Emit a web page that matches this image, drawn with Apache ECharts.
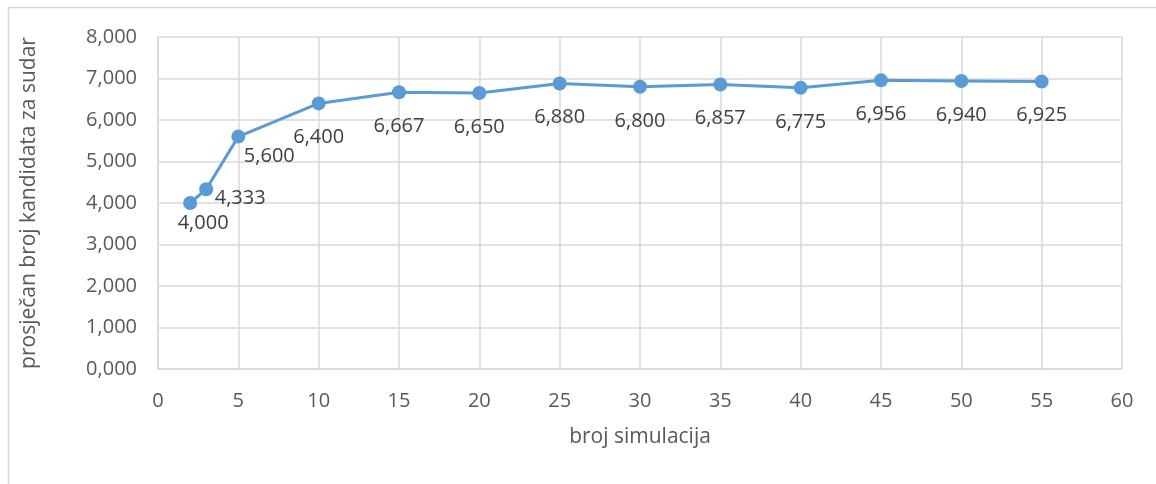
<!DOCTYPE html>
<html>
<head>
<meta charset="utf-8">
<script src="https://cdn.jsdelivr.net/npm/echarts@6/dist/echarts.min.js"></script>
<style>
  html, body { margin: 0; padding: 0; background: #fff; }
  #chart { width: 1156px; height: 484px; }
</style>
</head>
<body>
<div id="chart"></div>
<script>
// broj simulacija
const simulations = [2, 3, 5, 10, 15, 20, 25, 30, 35, 40, 45, 50, 55]
// prosječan broj kandidata za sudar
const avgCandidates = [4.000, 4.333, 5.600, 6.400, 6.667, 6.650, 6.880, 6.800, 6.857, 6.775, 6.956, 6.940, 6.925]

const fontFamily = '"Open Sans", sans-serif'
const fmt = v => v.toFixed(3).replace('.', ',')

// label placement, most sit under the point
const labelShift = { 0: [13, 20], 1: [34, 9], 2: [31, 20] }

const chart = echarts.init(document.getElementById('chart'))
chart.setOption({
  animation: false,
  graphic: [{
    type: 'rect',
    shape: { x: 8.5, y: 7.5, width: 1170, height: 500 },
    style: { fill: null, stroke: '#d9d9d9', lineWidth: 1.5 },
    silent: true
  }],
  grid: { left: 158, right: 34, top: 37, bottom: 115 },
  xAxis: {
    type: 'value',
    min: 0,
    max: 60,
    interval: 5,
    name: 'broj simulacija',
    nameLocation: 'middle',
    nameGap: 58,
    nameTextStyle: { fontFamily, fontSize: 21, color: '#595959' },
    axisLine: { show: true, lineStyle: { color: '#d9d9d9', width: 1.5 } },
    axisTick: { show: false },
    axisLabel: { fontFamily, fontSize: 20, color: '#595959', margin: 22 },
    splitLine: { show: true, lineStyle: { color: '#d9d9d9', width: 1.5 } }
  },
  yAxis: {
    type: 'value',
    min: 0,
    max: 8,
    interval: 1,
    name: 'prosječan broj kandidata za sudar',
    nameLocation: 'middle',
    nameGap: 118,
    nameTextStyle: { fontFamily, fontSize: 21, color: '#595959' },
    axisLine: { show: true, lineStyle: { color: '#d9d9d9', width: 1.5 } },
    axisTick: { show: false },
    axisLabel: { fontFamily, fontSize: 20, color: '#595959', margin: 21, formatter: fmt },
    splitLine: { show: true, lineStyle: { color: '#d9d9d9', width: 1.5 } }
  },
  series: [{
    type: 'line',
    data: simulations.map((x, i) => ({
      value: [x, avgCandidates[i]],
      label: { offset: labelShift[i] || [0, 34] }
    })),
    symbol: 'circle',
    symbolSize: 14,
    lineStyle: { color: '#5b9bd5', width: 3 },
    itemStyle: { color: '#5b9bd5' },
    label: {
      show: true,
      position: 'inside',
      fontFamily,
      fontSize: 20,
      color: '#404040',
      formatter: p => fmt(p.value[1])
    }
  }]
})
</script>
</body>
</html>
